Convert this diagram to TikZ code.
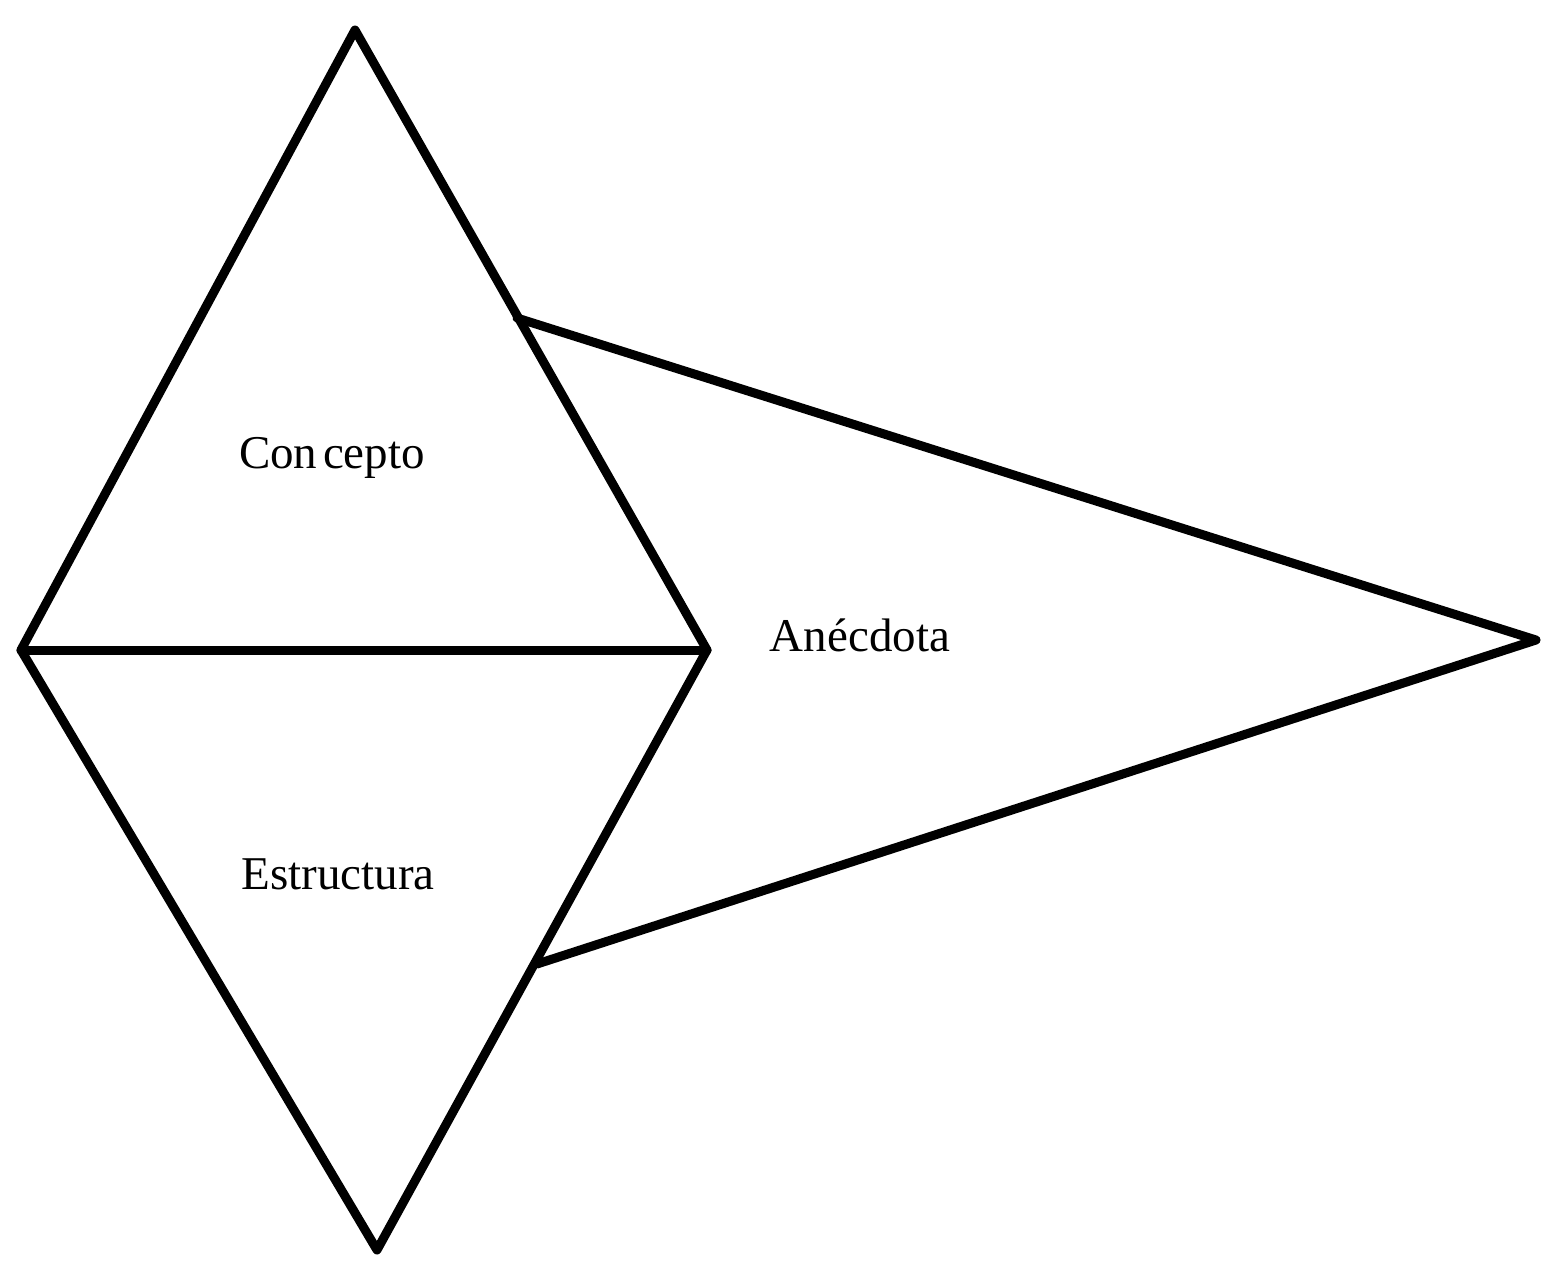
\documentclass[tikz,border=0pt]{standalone}
\usepackage{fontspec}
\setmainfont{Liberation Serif}
\begin{document}
\begin{tikzpicture}[x=1pt,y=-1pt,
  edge/.style={line width=9pt,line join=round,line cap=round,black},
  lbl/.style={font=\fontsize{47}{52}\selectfont,inner sep=0pt,anchor=base}]
\useasboundingbox (0,0) rectangle (1542,1261);
\coordinate (T) at (355,30);
\coordinate (L) at (21,650);
\coordinate (R) at (707,650);
\coordinate (B) at (377,1250);
\coordinate (P) at (1536,640);
\coordinate (J1) at (517,318);
\coordinate (J2) at (537,964);
\draw[edge] (T) -- (L) -- (B) -- (R) -- cycle;
\draw[edge] (L) -- (R);
\draw[edge] (J1) -- (P) -- (J2);
\node[lbl] (c) at (332,468) {Con\hspace{0.12em}cepto};
\node[lbl] (a) at (860,651) {Anécdota};
\node[lbl] (e) at (338,889) {Estructura};
\end{tikzpicture}
\end{document}
